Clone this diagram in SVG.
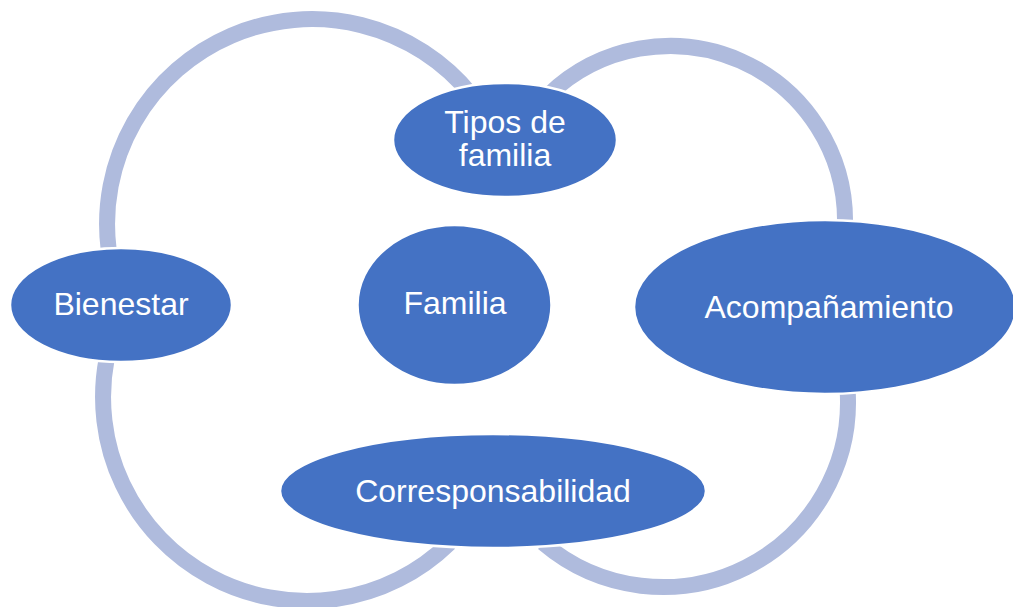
<svg xmlns="http://www.w3.org/2000/svg" width="1013" height="607" viewBox="0 0 1013 607">
<style>
.arc{fill:none;stroke:#AFBBDD;stroke-width:16}
.node{fill:#4472C4;stroke:#FFFFFF;stroke-width:2.5}
.lbl{font-family:"Liberation Sans",Arial,sans-serif;font-size:32px;fill:#FFFFFF;text-anchor:middle}
</style>
<rect width="1013" height="607" fill="#FFFFFF"/>
<g id="connectors">
<path class="arc" d="M108.7,250 A205,205 0 0 1 471.3,95"/>
<path class="arc" d="M548.6,95 A175,175 0 0 1 845,225"/>
<path class="arc" d="M847.6,390 A185,185 0 0 1 543.2,543"/>
<path class="arc" d="M106.8,358 A204,204 0 0 0 449.5,543"/>
</g>
<g id="node-tipos">
<ellipse class="node" cx="505" cy="140" rx="112" ry="57"/>
<text class="lbl" x="505" y="133">Tipos de</text>
<text class="lbl" x="505" y="166">familia</text>
</g>
<g id="node-bienestar">
<ellipse class="node" cx="121" cy="305" rx="111" ry="57"/>
<text class="lbl" x="121" y="315">Bienestar</text>
</g>
<g id="node-familia">
<ellipse class="node" cx="454.5" cy="305" rx="97" ry="80"/>
<text class="lbl" x="455" y="314">Familia</text>
</g>
<g id="node-acompanamiento">
<ellipse class="node" cx="825" cy="307" rx="191" ry="87"/>
<text class="lbl" x="829" y="318">Acompañamiento</text>
</g>
<g id="node-corresponsabilidad">
<ellipse class="node" cx="493" cy="491" rx="213" ry="57"/>
<text class="lbl" x="493" y="502">Corresponsabilidad</text>
</g>
</svg>
